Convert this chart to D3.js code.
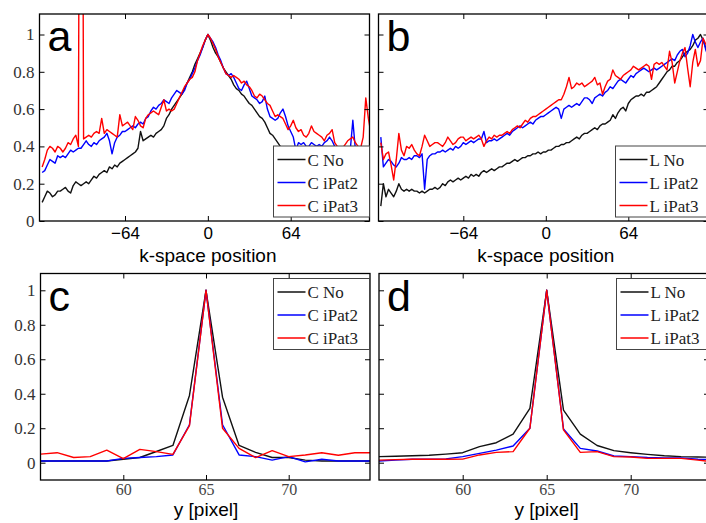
<!DOCTYPE html>
<html>
<head>
<meta charset="utf-8">
<script src="https://cdn.jsdelivr.net/npm/d3@7"></script>
<style>
  body { margin: 0; background: #fff; }
</style>
</head>
<body>
<svg id="fig" width="706" height="523"></svg>
<script>
// k-space position grid for panels a and b
var kPos = d3.range(-128, 128, 2);

// panel a: C profiles along k-space
var aNo = [0.10,0.13,0.16,0.15,0.13,0.14,0.16,0.16, 0.17,0.18,0.16,0.15,0.19,0.21,0.20,0.19,
           0.20,0.21,0.20,0.22,0.24,0.23,0.25,0.26, 0.27,0.26,0.29,0.28,0.30,0.29,0.31,0.32,
           0.33,0.34,0.35,0.36,0.37,0.39,0.48,0.43, 0.44,0.45,0.46,0.45,0.47,0.48,0.49,0.51,
           0.55,0.57,0.60,0.62,0.64,0.66,0.68,0.71, 0.74,0.77,0.80,0.84,0.87,0.90,0.93,0.97,
           1.00,0.97,0.93,0.90,0.88,0.85,0.82,0.80, 0.78,0.76,0.73,0.71,0.70,0.68,0.67,0.65,
           0.63,0.62,0.60,0.58,0.56,0.55,0.53,0.50, 0.47,0.46,0.44,0.42,0.40,0.38,0.36,0.34,
           0.33,0.31,0.30,0.28,0.27,0.26,0.25,0.24, 0.23,0.22,0.21,0.20,0.20,0.19,0.18,0.17,
           0.17,0.16,0.16,0.15,0.15,0.14,0.14,0.13, 0.13,0.12,0.12,0.12,0.11,0.11,0.11,0.10];
var aPat2 = [0.26,0.27,0.30,0.33,0.32,0.31,0.35,0.34, 0.35,0.34,0.36,0.38,0.37,0.38,0.39,0.39,
             0.41,0.43,0.41,0.40,0.42,0.41,0.43,0.44, 0.45,0.47,0.43,0.36,0.42,0.45,0.46,0.48,
             0.48,0.49,0.50,0.51,0.50,0.52,0.53,0.52, 0.55,0.56,0.59,0.61,0.60,0.62,0.63,0.65,
             0.64,0.63,0.66,0.68,0.70,0.69,0.68,0.70, 0.74,0.76,0.79,0.82,0.86,0.89,0.93,0.97,
             1.00,0.98,0.96,0.93,0.89,0.86,0.82,0.79, 0.78,0.79,0.77,0.74,0.71,0.70,0.73,0.75,
             0.71,0.67,0.66,0.65,0.63,0.64,0.67,0.60, 0.56,0.55,0.54,0.55,0.58,0.60,0.56,0.51,
             0.48,0.45,0.38,0.42,0.41,0.42,0.40,0.40, 0.42,0.41,0.40,0.41,0.40,0.42,0.43,0.45,
             0.43,0.40,0.38,0.36,0.35,0.37,0.34,0.38, 0.54,0.38,0.36,0.34,0.33,0.32,0.31,0.32];
var aPat3 = [0.29,0.33,0.38,0.40,0.39,0.37,0.40,0.39, 0.37,0.39,0.42,0.41,0.44,0.46,0.40,5.00,
             0.44,0.45,0.46,0.45,0.47,0.48,0.47,0.55, 0.47,0.49,0.48,0.47,0.46,0.45,0.57,0.51,
             0.52,0.53,0.51,0.49,0.56,0.54,0.51,0.50, 0.55,0.57,0.58,0.59,0.58,0.57,0.61,0.65,
             0.59,0.60,0.59,0.60,0.63,0.66,0.69,0.72, 0.74,0.76,0.77,0.80,0.86,0.90,0.94,0.97,
             1.00,0.98,0.95,0.92,0.88,0.85,0.82,0.79, 0.78,0.77,0.78,0.77,0.76,0.74,0.75,0.73,
             0.72,0.70,0.67,0.66,0.68,0.67,0.65,0.63, 0.62,0.59,0.56,0.57,0.56,0.55,0.52,0.49,
             0.51,0.54,0.50,0.48,0.49,0.46,0.45,0.47, 0.51,0.48,0.47,0.46,0.45,0.43,0.46,0.47,
             0.49,0.42,0.40,0.38,0.39,0.41,0.43,0.44, 0.45,0.42,0.40,0.39,0.45,0.66,0.55,0.47];

// panel b: L profiles along k-space
var bNo = [0.08,0.20,0.13,0.17,0.15,0.13,0.16,0.20, 0.17,0.16,0.17,0.16,0.17,0.16,0.16,0.15,
           0.16,0.15,0.16,0.17,0.17,0.18,0.17,0.18, 0.20,0.19,0.21,0.22,0.21,0.22,0.23,0.22,
           0.23,0.24,0.23,0.25,0.24,0.25,0.24,0.26, 0.27,0.26,0.27,0.28,0.27,0.28,0.29,0.29,
           0.30,0.31,0.31,0.32,0.33,0.32,0.33,0.34, 0.34,0.35,0.35,0.36,0.36,0.37,0.36,0.37,
           0.37,0.38,0.38,0.39,0.40,0.40,0.41,0.41, 0.42,0.42,0.43,0.44,0.45,0.44,0.46,0.47,
           0.47,0.48,0.49,0.50,0.49,0.51,0.52,0.52, 0.53,0.54,0.57,0.55,0.58,0.60,0.61,0.59,
           0.63,0.65,0.66,0.67,0.67,0.68,0.67,0.69, 0.69,0.70,0.71,0.72,0.74,0.76,0.78,0.80,
           0.81,0.83,0.83,0.85,0.86,0.88,0.90,0.91, 0.92,0.94,0.97,0.98,1.00,0.97,0.93,0.92];
var bPat2 = [0.45,0.29,0.31,0.33,0.32,0.30,0.29,0.31, 0.34,0.33,0.33,0.34,0.33,0.35,0.35,0.34,
             0.36,0.17,0.33,0.35,0.36,0.36,0.37,0.37, 0.38,0.37,0.38,0.39,0.38,0.40,0.39,0.40,
             0.42,0.41,0.42,0.43,0.42,0.43,0.44,0.44, 0.48,0.42,0.43,0.43,0.44,0.43,0.44,0.45,
             0.46,0.47,0.46,0.48,0.49,0.50,0.51,0.50, 0.51,0.52,0.53,0.52,0.54,0.55,0.56,0.56,
             0.57,0.58,0.59,0.60,0.61,0.60,0.55,0.60, 0.61,0.62,0.61,0.62,0.63,0.62,0.64,0.66,
             0.66,0.65,0.63,0.66,0.67,0.68,0.67,0.69, 0.70,0.72,0.71,0.73,0.75,0.76,0.75,0.74,
             0.76,0.78,0.77,0.79,0.80,0.81,0.82,0.81, 0.80,0.81,0.82,0.81,0.82,0.83,0.84,0.85,
             0.86,0.87,0.86,0.89,0.91,0.92,0.88,0.90, 0.94,1.00,0.96,0.93,0.96,0.98,0.92,0.88];
var bPat3 = [0.42,0.33,0.36,0.37,0.30,0.22,0.33,0.47, 0.38,0.35,0.40,0.39,0.41,0.38,0.36,0.35,
             0.40,0.46,0.43,0.40,0.41,0.42,0.42,0.41, 0.40,0.42,0.45,0.43,0.41,0.42,0.44,0.45,
             0.45,0.43,0.44,0.45,0.44,0.45,0.46,0.44, 0.40,0.43,0.45,0.44,0.46,0.45,0.46,0.46,
             0.47,0.48,0.47,0.49,0.50,0.51,0.50,0.52, 0.54,0.53,0.55,0.56,0.56,0.57,0.58,0.59,
             0.60,0.61,0.62,0.63,0.64,0.65,0.65,0.68, 0.72,0.77,0.71,0.72,0.74,0.73,0.74,0.72,
             0.73,0.74,0.75,0.77,0.73,0.74,0.68,0.72, 0.75,0.76,0.81,0.78,0.77,0.76,0.78,0.79,
             0.80,0.81,0.83,0.82,0.81,0.82,0.83,0.84, 0.83,0.76,0.84,0.85,0.84,0.85,0.83,0.81,
             0.91,0.85,0.74,0.80,0.86,0.90,0.93,0.82, 0.72,0.85,0.92,0.83,0.86,0.98,0.95,0.93];

// image pixel positions for panels c and d
var yPix = [55,56,57,58,59,60,61,62,63,64,65,66,67,68,69,70,71,72,73,74,75];

var cNo   = [0.01,0.01,0.01,0.01,0.01,0.02,0.03,0.065,0.10,0.39,1.00,0.38,0.10,0.06,0.03,0.03,0.015,0.01,0.01,0.01,0.01];
var cPat2 = [0.01,0.01,0.01,0.01,0.01,0.025,0.03,0.035,0.045,0.22,1.00,0.22,0.045,0.035,0.015,0.035,0.005,0.02,0.01,0.01,0.01];
var cPat3 = [0.05,0.058,0.03,0.035,0.073,0.023,0.077,0.064,0.048,0.215,1.00,0.20,0.083,0.03,0.07,0.035,0.045,0.058,0.043,0.058,0.058];

var dNo   = [0.035,0.037,0.04,0.043,0.05,0.058,0.093,0.116,0.166,0.315,1.00,0.305,0.166,0.10,0.07,0.058,0.048,0.04,0.035,0.033,0.032];
var dPat2 = [0.01,0.015,0.02,0.02,0.022,0.035,0.054,0.073,0.097,0.20,1.00,0.195,0.083,0.068,0.039,0.035,0.03,0.028,0.028,0.02,0.018];
var dPat3 = [0.015,0.018,0.02,0.02,0.02,0.021,0.045,0.06,0.064,0.20,1.00,0.19,0.06,0.064,0.035,0.033,0.025,0.025,0.025,0.015,0.005];

var cNames = ["C No", "C iPat2", "C iPat3"];
var lNames = ["L No", "L iPat2", "L iPat3"];
var yTickVals = [0, 0.2, 0.4, 0.6, 0.8, 1];
var kTickVals = [-64, 0, 64];
var pixTickVals = [60, 65, 70];

var lineColors = ["#111111", "#0000ff", "#ff0000"];
var serif = "'Liberation Serif', 'Times New Roman', serif";
var sans = "'Liberation Sans', Arial, sans-serif";

var svg = d3.select("#fig");

function drawPanel(p) {
    var g = svg.append("g");
    var x = d3.scaleLinear().domain(p.xDom).range(p.xRng);
    var y = d3.scaleLinear().domain([0, 1]).range(p.yRng);

    var clipId = "clip-" + p.letter;
    svg.append("clipPath").attr("id", clipId)
        .append("rect")
        .attr("x", p.left).attr("y", p.top)
        .attr("width", p.right - p.left).attr("height", p.bottom - p.top);

    // curves
    var line = d3.line().x(function (d) { return x(d[0]); }).y(function (d) { return y(d[1]); });
    var lg = g.append("g").attr("clip-path", "url(#" + clipId + ")");
    p.series.forEach(function (s, i) {
        lg.append("path")
            .datum(p.xs.map(function (v, j) { return [v, s[j]]; }))
            .attr("d", line)
            .attr("fill", "none")
            .attr("stroke", lineColors[i])
            .attr("stroke-width", 1.4)
            .attr("stroke-linejoin", "round");
    });

    // ticks, MATLAB style: inward on all four sides
    var bottom = g.append("g").attr("transform", "translate(0," + p.bottom + ")")
        .call(d3.axisBottom(x).tickValues(p.xTicks).tickSize(-5).tickPadding(0));
    var top = g.append("g").attr("transform", "translate(0," + p.top + ")")
        .call(d3.axisTop(x).tickValues(p.xTicks).tickSize(-5).tickFormat(""));
    var left = g.append("g").attr("transform", "translate(" + p.left + ",0)")
        .call(d3.axisLeft(y).tickValues(yTickVals).tickSize(-5).tickPadding(5).tickFormat(function (d) { return d; }));
    var right = g.append("g").attr("transform", "translate(" + p.right + ",0)")
        .call(d3.axisRight(y).tickValues(yTickVals).tickSize(-5).tickFormat(""));

    [bottom, top, left, right].forEach(function (a) {
        a.select(".domain").remove();
        a.selectAll(".tick line").attr("stroke", "#000").attr("stroke-width", 1);
    });

    bottom.selectAll("text")
        .attr("y", p.xTickY).attr("dy", 0)
        .style("font-family", p.xTickFont)
        .style("font-size", p.xTickSize + "px")
        .attr("fill", p.xTickColor);

    if (p.yLabels) {
        left.selectAll("text")
            .style("font-family", serif)
            .style("font-size", "17px")
            .attr("fill", "#333");
    } else {
        left.selectAll("text").remove();
    }

    // axes box
    g.append("rect")
        .attr("x", p.left).attr("y", p.top)
        .attr("width", p.right - p.left).attr("height", p.bottom - p.top)
        .attr("fill", "none").attr("stroke", "#000").attr("stroke-width", 1.3);

    // x label
    g.append("text")
        .attr("x", x(p.xMid)).attr("y", p.xLabelY)
        .attr("text-anchor", "middle")
        .style("font-family", sans)
        .style("font-size", "19px")
        .text(p.xLabel);

    // panel letter
    g.append("text")
        .attr("x", p.left + 8).attr("y", p.top + 37)
        .style("font-family", sans)
        .style("font-size", "43px")
        .text(p.letter);

    // legend
    var L = p.legend;
    var leg = g.append("g");
    leg.append("rect")
        .attr("x", L.x).attr("y", L.y).attr("width", L.w).attr("height", L.h)
        .attr("fill", "#fff").attr("stroke", "#444").attr("stroke-width", 1);
    p.names.forEach(function (n, i) {
        var ry = L.y + 13.5 + i * 23;
        leg.append("line")
            .attr("x1", L.x + 4).attr("x2", L.x + 32)
            .attr("y1", ry).attr("y2", ry)
            .attr("stroke", lineColors[i]).attr("stroke-width", 1.5);
        leg.append("text")
            .attr("x", L.x + 34).attr("y", ry + 6)
            .style("font-family", serif)
            .style("font-size", "17px")
            .attr("fill", "#222")
            .text(n);
    });
}

drawPanel({
    letter: "a", left: 39.5, right: 369.5, top: 14, bottom: 221,
    xDom: [-64, 64], xRng: [125, 290.7], yRng: [221, 34.5],
    xs: kPos, series: [aNo, aPat2, aPat3], names: cNames,
    xTicks: kTickVals, xTickFont: sans, xTickSize: 17, xTickColor: "#000", xTickY: 18,
    yLabels: true, xLabel: "k-space position", xMid: 0, xLabelY: 262,
    legend: { x: 273.5, y: 146, w: 96, h: 71 }
});
drawPanel({
    letter: "b", left: 378.5, right: 708.5, top: 14, bottom: 221,
    xDom: [-64, 64], xRng: [463.3, 628.3], yRng: [221, 34.5],
    xs: kPos, series: [bNo, bPat2, bPat3], names: lNames,
    xTicks: kTickVals, xTickFont: sans, xTickSize: 17, xTickColor: "#000", xTickY: 18,
    yLabels: false, xLabel: "k-space position", xMid: 0, xLabelY: 262,
    legend: { x: 615.5, y: 146, w: 96, h: 71 }
});
drawPanel({
    letter: "c", left: 40.5, right: 370, top: 273.5, bottom: 480,
    xDom: [60, 70], xRng: [123.3, 288.7], yRng: [462.7, 290.3],
    xs: yPix, series: [cNo, cPat2, cPat3], names: cNames,
    xTicks: pixTickVals, xTickFont: serif, xTickSize: 16, xTickColor: "#444", xTickY: 15,
    yLabels: true, xLabel: "y [pixel]", xMid: 65, xLabelY: 516,
    legend: { x: 273.5, y: 278.5, w: 96, h: 71 }
});
drawPanel({
    letter: "d", left: 379, right: 709, top: 273.5, bottom: 480,
    xDom: [60, 70], xRng: [462.7, 630.7], yRng: [462.7, 290.3],
    xs: yPix, series: [dNo, dPat2, dPat3], names: lNames,
    xTicks: pixTickVals, xTickFont: serif, xTickSize: 16, xTickColor: "#444", xTickY: 15,
    yLabels: false, xLabel: "y [pixel]", xMid: 65, xLabelY: 516,
    legend: { x: 616.5, y: 278.5, w: 96, h: 71 }
});
</script>
</body>
</html>
